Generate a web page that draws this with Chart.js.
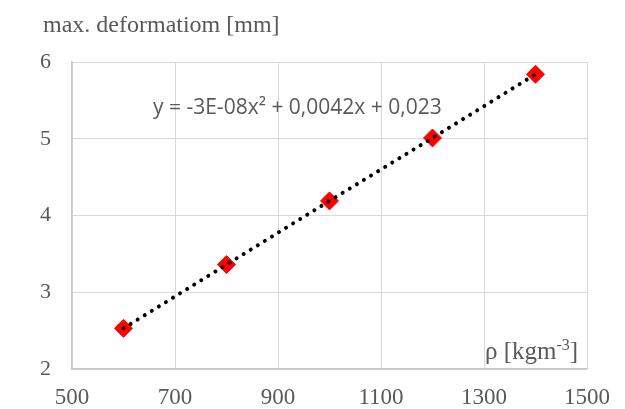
<!DOCTYPE html>
<html>
<head>
<meta charset="utf-8">
<script src="https://cdn.jsdelivr.net/npm/chart.js@4/dist/chart.umd.min.js"></script>
<style>
  html, body { margin: 0; padding: 0; background: #fff; }
  #wrap { width: 625px; height: 409px; }
</style>
</head>
<body>
<div id="wrap"><canvas id="deformChart" width="625" height="409"></canvas></div>
<script>
// density values [kg m^-3] and max. deformation [mm]
const density = [600, 800, 1000, 1200, 1400];
const deformation = [2.53, 3.36, 4.19, 5.01, 5.84];
const xTicks = [500, 700, 900, 1100, 1300, 1500];
const yTicks = [2, 3, 4, 5, 6];

const points = density.map((x, i) => ({ x: x, y: deformation[i] }));

const serif = '"Liberation Serif", "Times New Roman", serif';

// texts drawn over the chart
const labelsPlugin = {
    id: 'labels',
    afterDraw(chart) {
        const ctx = chart.ctx;
        ctx.save();
        ctx.fillStyle = '#595959';
        ctx.textBaseline = 'alphabetic';

        // y axis title
        ctx.font = '24px ' + serif;
        ctx.fillText('max. deformatiom [mm]', 43, 32);

        // trendline equation
        ctx.font = '21px "Open Sans", "Liberation Sans", sans-serif';
        ctx.fillText('y = -3E-08x² + 0,0042x + 0,023', 153, 114);

        // x axis title with superscript
        ctx.font = '25px ' + serif;
        let x = 485;
        const base = 359;
        ctx.fillText('ρ [kgm', x, base);
        x += ctx.measureText('ρ [kgm').width;
        ctx.font = '16px ' + serif;
        ctx.fillText('-3', x, base - 9);
        x += ctx.measureText('-3').width;
        ctx.font = '25px ' + serif;
        ctx.fillText(']', x, base);
        ctx.restore();
    }
};

const ctx = document.getElementById('deformChart').getContext('2d');
new Chart(ctx, {
    type: 'scatter',
    data: {
        datasets: [
            {
                label: 'trend',
                data: points,
                showLine: true,
                borderColor: '#000',
                borderWidth: 4,
                borderDash: [0.01, 8.3],
                borderCapStyle: 'round',
                pointRadius: 0,
                order: 0
            },
            {
                label: 'max. deformation',
                data: points,
                pointStyle: 'rectRot',
                pointRadius: 9,
                pointBackgroundColor: '#ff0000',
                pointBorderColor: '#ff0000',
                pointBorderWidth: 1,
                showLine: false,
                order: 1
            }
        ]
    },
    options: {
        responsive: false,
        animation: false,
        layout: { padding: { left: 0, right: 38, top: 62, bottom: 0 } },
        plugins: {
            legend: { display: false },
            tooltip: { enabled: false }
        },
        scales: {
            x: {
                type: 'linear',
                min: 500,
                max: 1500,
                afterBuildTicks: (scale) => { scale.ticks = xTicks.map(v => ({ value: v })); },
                afterFit: (scale) => { scale.height = 40; },
                grid: { color: '#d9d9d9', lineWidth: 1, drawTicks: false },
                border: { color: '#c8c8c8', width: 1.5 },
                ticks: {
                    padding: 15,
                    color: '#595959',
                    font: { family: serif, size: 23 },
                    callback: (v) => String(v)
                }
            },
            y: {
                type: 'linear',
                min: 2,
                max: 6,
                afterBuildTicks: (scale) => { scale.ticks = yTicks.map(v => ({ value: v })); },
                afterFit: (scale) => { scale.width = 72; },
                grid: { color: '#d9d9d9', lineWidth: 1, drawTicks: false },
                border: { color: '#c8c8c8', width: 1.5 },
                ticks: {
                    padding: 21,
                    color: '#595959',
                    font: { family: serif, size: 22 },
                    callback: (v) => String(v)
                }
            }
        }
    },
    plugins: [labelsPlugin]
});
</script>
</body>
</html>
